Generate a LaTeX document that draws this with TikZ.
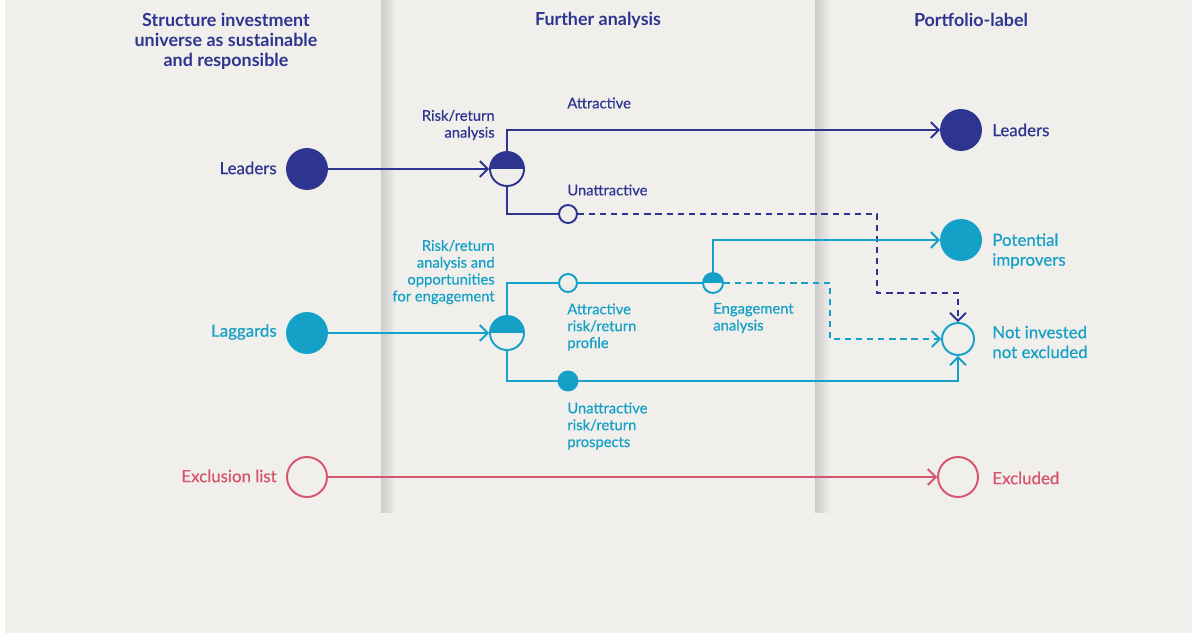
\documentclass[tikz,border=0pt]{standalone}
\usepackage{fontspec}
\setmainfont{Lato}
\newfontfamily\midfont{Lato}[FakeBold=0.5]
\usepackage{xcolor}
\usetikzlibrary{arrows.meta,positioning}

\definecolor{bg}{HTML}{F0EFEB}
\definecolor{navy}{HTML}{2E3590}
\definecolor{teal}{HTML}{15A0C7}
\definecolor{rose}{HTML}{D6546C}

\begin{document}
\begin{tikzpicture}[
    x=0.02cm, y=-0.02cm,
    dot/.style={circle, draw=#1, fill=#1, line width=1.1pt, inner sep=0pt, minimum size=0.8cm},
    ring/.style={circle, draw=#1, fill=bg, line width=1.1pt, inner sep=0pt, minimum size=0.8cm},
    half/.style={circle, draw=#1, fill=bg, line width=1.1pt, inner sep=0pt, minimum size=0.68cm,
        path picture={\fill[#1] (path picture bounding box.west) rectangle (path picture bounding box.north east);}},
    head/.style={text=navy, font=\fontsize{10.2}{11.3}\selectfont\bfseries, align=center},
    lbl/.style={inner sep=0pt, font=\midfont\fontsize{9.6}{11.3}\selectfont},
    small/.style={inner sep=0pt, font=\midfont\fontsize{8.4}{9.6}\selectfont},
    link/.style={line width=1.1pt},
    arrow/.style={link, -{Straight Barb[length=4.5pt, width=9pt]}},
    dashlink/.style={link, dashed, dash pattern=on 3.5pt off 2.8pt}
]
    % background and column shadows
    \fill[white] (0,0) rectangle (1192,633);
    \fill[bg] (5,0) rectangle (1192,633);
    \foreach \sx in {381,815} {
        \fill[left color=black!20, right color=bg] (\sx,0) rectangle (\sx+15,512);
    }

    % column heads
    \node[head] (headleft) at (226,41) {Structure investment\\universe as sustainable\\and responsible};
    \node[head] (headmid) at (598,20) {Further analysis};
    \node[head] (headright) at (971,20) {Portfolio-label};

    % start
    \node[dot=navy] (leaders) at (307,169) {};
    \node[dot=teal] (laggards) at (307,333) {};
    \node[ring=rose] (exclusion) at (307,477) {};
    \node[lbl, text=navy, anchor=east] (leaderstxt) at (277,168) {Leaders};
    \node[lbl, text=teal, anchor=east] (laggardstxt) at (277,332) {Laggards};
    \node[lbl, text=rose, anchor=east] (exclusiontxt) at (277,476) {Exclusion list};

    % further analysis
    \node[half=navy] (riskret) at (507,169) {};
    \node[ring=navy, minimum size=0.36cm] (unattractive) at (568,214) {};
    \node[half=teal] (riskopp) at (507,333) {};
    \node[ring=teal, minimum size=0.36cm] (attractive) at (568,283) {};
    \node[half=teal, minimum size=0.4cm] (engagement) at (713,283) {};
    \node[dot=teal, minimum size=0.38cm] (prospects) at (568,381) {};
    \coordinate (bendA) at (877,293);
    \coordinate (bendB) at (830,339);

    \node[small, text=navy, align=right, anchor=east] (riskrettxt) at (495,125) {Risk/return\\analysis};
    \node[small, text=navy, anchor=west] (attrtxt) at (567,103) {Attractive};
    \node[small, text=navy, anchor=west] (unattrtxt) at (567,190) {Unattractive};
    \node[small, text=teal, align=right, anchor=east] (riskopptxt) at (495,272) {Risk/return\\analysis and\\opportunities\\for engagement};
    \node[small, text=teal, align=left, anchor=west] (attractivetxt) at (567,327) {Attractive\\risk/return\\profile};
    \node[small, text=teal, align=left, anchor=west] (engagementtxt) at (713,318) {Engagement\\analysis};
    \node[small, text=teal, align=left, anchor=west] (prospectstxt) at (567,426) {Unattractive\\risk/return\\prospects};

    % portfolio label
    \node[dot=navy] (outleaders) at (961,130) {};
    \node[dot=teal] (improvers) at (961,240) {};
    \node[ring=teal, minimum size=0.64cm] (notinvested) at (958,339) {};
    \node[ring=rose] (excluded) at (958,477) {};
    \node[lbl, text=navy, anchor=west] (outleaderstxt) at (992,130) {Leaders};
    \node[lbl, text=teal, align=left, anchor=west] (improverstxt) at (992,251) {Potential\\improvers};
    \node[lbl, text=teal, align=left, anchor=west] (notinvestedtxt) at (992,342) {Not invested\\not excluded};
    \node[lbl, text=rose, anchor=west] (excludedtxt) at (992,478) {Excluded};

    % leaders
    \draw[arrow, navy] (leaders) -- (riskret);
    \draw[arrow, navy] (riskret.north) |- (outleaders);
    \draw[link, navy] (riskret.south) |- (unattractive);
    \draw[dashlink, navy, -{Straight Barb[length=4.5pt, width=9pt]}] (unattractive) -| (bendA) -| (notinvested.north);

    % laggards
    \draw[arrow, teal] (laggards) -- (riskopp);
    \draw[link, teal] (riskopp.north) |- (attractive);
    \draw[link, teal] (attractive) -- (engagement);
    \draw[arrow, teal] (engagement.north) |- (improvers);
    \draw[dashlink, teal, -{Straight Barb[length=4.5pt, width=9pt]}] (engagement) -| (bendB) -- (notinvested);
    \draw[link, teal] (riskopp.south) |- (prospects);
    \draw[arrow, teal] (prospects) -| (notinvested);

    % exclusion
    \draw[arrow, rose] (exclusion) -- (excluded);
\end{tikzpicture}
\end{document}
